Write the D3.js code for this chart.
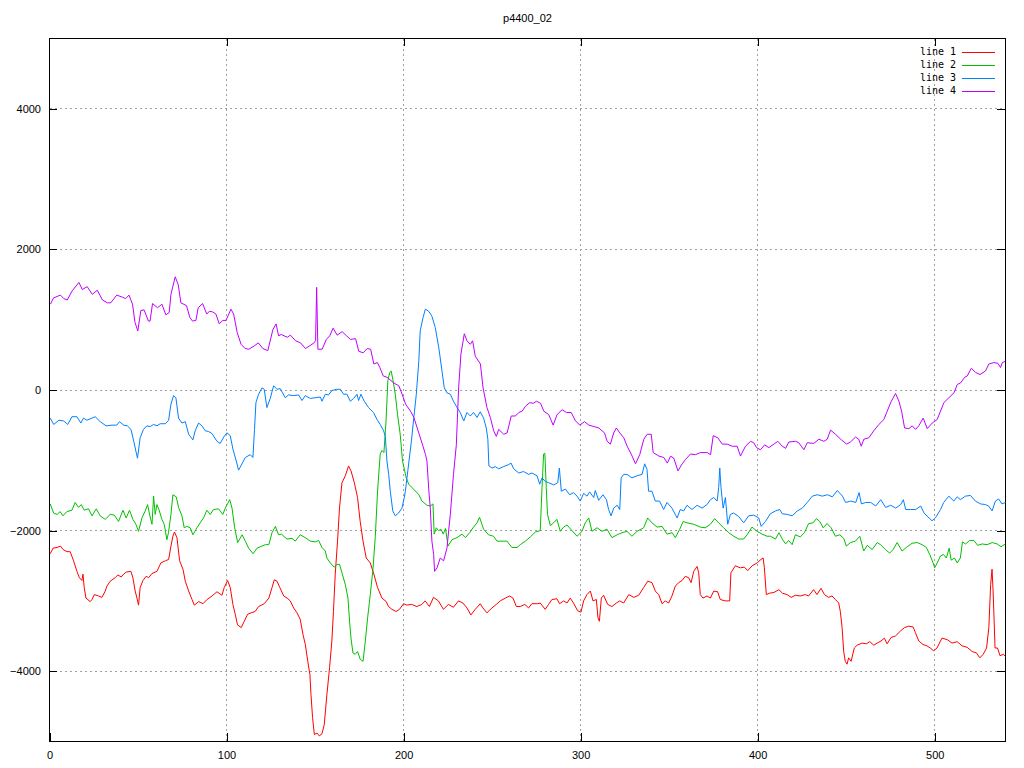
<!DOCTYPE html>
<html>
<head>
<meta charset="utf-8">
<script src="https://cdn.jsdelivr.net/npm/d3@7"></script>
<style>
  html, body { margin: 0; padding: 0; background: #fff; }
  svg { display: block; }
</style>
</head>
<body>
<svg id="chart" width="1024" height="768"></svg>
<script>
const chartTitle = "p4400_02";
const seriesNames = ["line 1", "line 2", "line 3", "line 4"];
const seriesColors = ["#ff0000", "#00c000", "#0080ff", "#c000ff"];
const xTicks = [0, 100, 200, 300, 400, 500];
const yTicks = [-4000, -2000, 0, 2000, 4000];

const line1X = [0.4,2,4.3,6.2,7.7,9.9,11.7,13.6,15.5,16.9,18.3,18.9,19.6,20.6,23,24,25.3,27.7,29.6,31.5,32.4,34.3,37.1,38.6,40.5,41.9,43.3,46,47.1,48.4,49.4,50.3,51.2,52.8,54.6,56,57.9,60.7,62.9,65.4,67.3,68.6,69.7,70.6,72,73.5,75.4,76.7,78.6,80.5,81.8,84.3,86.7,89,91.8,94.6,97.4,98.7,100.6,102.1,103.6,104.9,106.2,108.3,110,111.9,113.9,116.2,118.1,119.7,121.3,123.9,125.7,127,128.5,130.1,132.3,134.2,136,137.9,139.8,141.6,143.2,144.5,145.9,147.1,147.7,148.6,149.6,151.1,152.4,153.9,155.2,156.7,158.2,159.5,160.4,161.4,162.7,163.8,165.2,167.1,168.9,170.3,172.2,174,175.5,177.1,178.9,181.2,183,185.3,187.8,190.2,191.5,193.4,195.8,197.7,200,201.8,204.6,207.5,210.3,212.2,214.6,216.9,219.7,222.5,225.3,228.2,231,233.5,235.8,238,240.5,243.3,244.8,247.1,249.9,252.4,254.6,257.5,259.9,261.8,263.7,265.9,268.5,270.6,272.5,275.7,277.2,280,281.9,283.8,286.6,288.1,290.4,292.3,294.1,296,298.3,300.2,301.7,303.6,305.5,307,308.9,309.8,310.6,311.7,313,315.3,317.7,320.2,322.1,324.3,327.2,330,332.8,335.6,337.9,340.3,342.2,344.1,346,347.8,349.7,351.6,353.5,355.4,357.3,359.1,361,362.4,363.9,365.8,366.7,367.6,369.1,371.4,373.3,375.2,377.4,378.9,381.7,384.2,384.9,387.4,390.2,392.5,394.4,396.9,399.7,401.9,403.1,403.8,404.9,406.8,409.2,412,414,416.6,418.9,421.3,424.1,426.9,428.8,431.6,433.5,435.8,437.7,440.1,442,443.9,445.8,446.7,447.7,448.6,449.5,450.5,451.4,452.8,454.6,456.2,459,461.4,463.3,465.6,467.5,469.7,471.6,473.1,475.4,477.8,480.6,482.9,485.3,487.8,489.1,491,493.4,495.7,497.5,499.4,501.3,504.1,507,509.8,512.7,515.5,518.3,521.2,523.6,525.5,527.4,529.3,530.6,531.6,532.4,533,534.1,535.5,536.9,538.8,540];
const line1Y = [-2330,-2250,-2240,-2220,-2270,-2300,-2300,-2430,-2580,-2670,-2710,-2620,-2810,-2960,-3010,-2980,-2910,-2930,-2950,-2860,-2790,-2720,-2670,-2630,-2660,-2620,-2590,-2580,-2670,-2860,-2960,-3060,-2810,-2710,-2650,-2670,-2610,-2580,-2460,-2430,-2410,-2220,-2080,-2020,-2100,-2430,-2550,-2720,-2860,-2980,-3060,-3010,-3040,-2980,-2930,-2870,-2920,-2810,-2710,-2810,-3050,-3190,-3340,-3380,-3290,-3190,-3170,-3150,-3080,-3060,-3040,-2960,-2810,-2700,-2720,-2810,-2930,-2960,-3000,-3100,-3170,-3260,-3480,-3620,-3860,-4050,-4330,-4660,-4900,-4880,-4920,-4890,-4760,-4330,-3950,-3570,-3150,-2620,-2150,-1680,-1320,-1220,-1080,-1150,-1320,-1530,-1870,-2150,-2390,-2460,-2600,-2810,-2960,-3010,-3080,-3120,-3150,-3120,-3040,-3060,-3050,-3080,-3050,-3000,-3080,-2950,-3000,-3120,-3050,-3090,-3000,-3030,-3100,-3200,-3120,-3040,-3100,-3170,-3100,-3050,-3000,-2960,-2930,-2960,-3080,-3080,-3050,-3100,-3040,-3040,-3030,-3120,-3050,-2980,-2970,-3040,-3000,-3030,-2960,-3030,-3140,-3160,-3000,-2910,-2860,-3000,-2980,-3240,-3290,-2960,-2920,-3050,-3080,-3030,-3000,-3030,-2910,-2950,-2920,-2810,-2720,-2740,-2860,-2910,-3040,-3000,-3030,-2930,-2790,-2740,-2710,-2650,-2670,-2740,-2580,-2510,-2600,-2910,-2960,-2930,-2960,-2860,-2870,-2980,-3000,-3000,-2600,-2500,-2530,-2520,-2570,-2500,-2460,-2410,-2390,-2530,-2910,-2890,-2880,-2840,-2890,-2910,-2950,-2920,-2930,-2910,-2930,-2840,-2910,-2820,-2910,-2950,-2930,-2980,-3030,-3150,-3380,-3720,-3860,-3900,-3810,-3860,-3670,-3630,-3600,-3610,-3580,-3630,-3600,-3570,-3530,-3610,-3520,-3500,-3430,-3380,-3360,-3370,-3450,-3570,-3620,-3640,-3670,-3710,-3670,-3530,-3550,-3600,-3580,-3640,-3660,-3720,-3740,-3810,-3760,-3670,-3380,-2770,-2550,-2860,-3670,-3670,-3780,-3760,-3790];

const line2X = [0.4,2.3,4.3,6,7.6,9.8,12.7,14.5,16.4,17.9,19.6,22,24,26.4,28.6,31.5,34.3,36.6,39,41.5,43.3,45.2,47.1,48.8,50.3,52.2,54.1,55.4,56.6,57.9,58.8,59.7,60.7,61.8,63.5,64.8,66.3,67.2,68.6,69.7,71.6,72.9,74.8,76.1,77.6,79.5,81,83.3,85.1,87,88.9,90.8,92.6,95.5,97.9,99.3,101.8,103.1,104.6,106.3,108.8,110.6,112.5,115,117.2,120,122,123.9,125.7,127.6,129.4,131,134.1,137,138.8,141.6,144.5,147.3,150.1,152,153.9,155.8,156.7,158.6,160.8,162.4,163.8,165.2,167.1,168.6,169.5,170.3,171.4,172.7,174,175.5,177.1,178.4,179.7,181.2,182.7,184,185.3,186.8,187.8,188.9,190.1,191.1,192.2,193,194.1,195.3,196.6,198.1,199.4,201.5,202.9,205.6,208.5,210.4,213.2,215.1,216.6,217.3,218.5,219.8,221.1,222.4,223.7,225.1,227.3,230.2,233,234.9,237.3,239.2,241.5,242.9,245.2,248,250.8,252.8,255.6,258.4,261.2,264.1,265.9,268.8,271.6,274.4,277.2,278.2,279.1,279.8,280.6,281.3,282.9,284.7,286.6,288.5,290.4,292.3,295.1,298,300.8,302.6,304.6,306.4,309.3,312.1,314.9,317.7,320.6,323.4,326.2,329,331.9,335.6,337.9,340.3,343.2,346,348.8,351.7,353.5,356,357.9,360.1,363.9,367.6,370.4,373.3,375.7,378,380.8,383.7,386.5,389.3,392.1,394,396.8,399.7,402.5,405.3,407.2,410.1,412,413.9,415.8,417.5,419.5,421.3,424.1,426.4,428.8,431.3,433.2,435.1,437,439.2,441.5,443.9,446.4,448.6,450.1,452.4,455.2,457.7,459.9,461.9,464.7,467.5,469.4,472.2,474.6,476.5,478.8,481.6,484,487.2,490.1,492.9,495.3,497.2,499.1,500,501.4,503.3,505,506.6,508.2,509.3,511.2,512.7,514.5,515.7,517.4,519.8,522.1,524.3,526.8,529.6,532.5,535.3,537.5,540];
const line2Y = [-1620,-1750,-1770,-1730,-1790,-1730,-1710,-1600,-1670,-1630,-1710,-1690,-1790,-1690,-1790,-1840,-1770,-1780,-1870,-1710,-1820,-1710,-1840,-1910,-2010,-1820,-1720,-1630,-1780,-1910,-1510,-1770,-1630,-1700,-1840,-1910,-2130,-2030,-1770,-1490,-1520,-1670,-1790,-1960,-1940,-1960,-2060,-1960,-1890,-1820,-1710,-1770,-1700,-1690,-1770,-1680,-1560,-1680,-1960,-2170,-2060,-2150,-2250,-2330,-2250,-2220,-2200,-2200,-2030,-1940,-2060,-2050,-2120,-2110,-2150,-2060,-2100,-2150,-2160,-2140,-2240,-2290,-2390,-2460,-2520,-2480,-2480,-2600,-2770,-2960,-3290,-3530,-3740,-3760,-3720,-3830,-3860,-3570,-3240,-2910,-2550,-2100,-1440,-910,-860,-890,-440,130,250,270,130,-60,-350,-630,-1010,-1250,-1340,-1410,-1485,-1580,-1640,-1650,-1620,-2050,-1960,-2000,-1980,-2050,-1970,-2220,-2130,-2100,-2050,-2100,-2030,-1960,-1890,-1810,-1980,-2060,-2080,-2150,-2150,-2150,-2240,-2240,-2200,-2150,-2090,-2020,-2000,-1390,-910,-900,-1390,-1770,-1930,-1890,-1840,-2010,-1950,-1920,-2000,-2080,-2010,-1890,-1820,-2010,-1960,-2010,-1980,-2100,-2060,-2030,-2010,-2080,-2010,-1960,-1820,-1890,-1950,-1940,-2050,-2030,-2100,-1980,-1870,-1890,-1910,-1950,-1960,-1910,-1830,-1890,-1960,-2030,-2080,-2120,-2120,-2060,-1950,-2010,-2050,-2080,-2080,-2120,-2030,-2120,-2190,-2140,-2200,-2060,-2090,-2030,-1900,-1890,-1830,-1870,-1960,-1900,-1960,-2080,-2060,-2110,-2220,-2170,-2150,-2080,-2290,-2210,-2270,-2170,-2200,-2270,-2320,-2270,-2170,-2290,-2240,-2180,-2170,-2200,-2240,-2340,-2460,-2530,-2460,-2360,-2340,-2390,-2250,-2420,-2390,-2460,-2390,-2160,-2190,-2140,-2140,-2210,-2190,-2200,-2170,-2190,-2230,-2190];

const line3X = [0.4,2.4,5.3,8,10.3,12.7,15.5,17.7,19.2,21.1,24,25.8,28.6,32,35.3,38,39.5,41.9,44,46,47.6,48.8,49.7,51.2,53.1,55,56.9,58.8,60.7,62.5,65.4,67.3,68.6,70.1,71.4,72.9,74.8,76.7,78.6,81,82.3,84.2,86.1,88,89.8,91.8,94.6,96.4,98.4,100.2,102.1,103.6,105.5,106.8,108.3,110.6,113.4,114.9,115.8,116.6,118.1,120,121.3,122.8,124.7,126.6,128.5,130.3,133.2,135,137.9,140.7,142.6,144.5,147.3,150.1,153,153.9,155.8,157.6,159.5,162,164.3,166.1,168,169.9,171.8,173.7,174.6,175.9,177.8,180.2,183,185,186.8,188.7,189.7,190.6,191.6,192.5,193.9,195.3,197.2,199.1,200.4,201,202.4,204.4,205.8,207.2,208.6,209.4,211,212.3,214.2,216,217.9,219.9,221.7,223,224.5,226.4,228.2,230.2,232,234,235.8,237.7,239.5,241.5,243.3,245.2,246.7,247.6,248.2,250,251.8,253.7,256.5,259.4,260.7,262.2,265,267.8,270.6,272.5,275.4,276.9,278.2,280,282,284.8,287.1,288,289.1,291.4,293.8,296,298,299.8,301.7,303.6,305.1,307.4,308.3,310.2,312.6,314.6,315.8,317.2,318.7,320.6,322.1,322.9,324.3,326.2,329,331.9,334.7,336.2,337.5,338.4,340.3,342.2,344.6,346.9,348.8,351.6,354.5,356.3,358.2,360.1,362.9,365.8,368.6,371.4,373.3,375.2,377.1,378,378.6,379.3,380.5,381.8,383.1,384.6,386.4,389.3,392.1,394.9,397.8,400.6,402,404.4,407.2,410.1,412.5,413.9,416.7,419.5,422.4,425.2,428,430.9,433.7,436.5,439.4,442.2,445,447.9,449.7,452.6,455.4,457.3,458.6,461,463.9,466.7,469.5,472.3,475.2,478,480.8,482.3,483.6,486.4,489.3,492.1,494,496.8,498.5,500.4,503.3,505.1,508,510.8,512.7,514.5,517.4,520.2,523,525.9,528.7,530.5,532.4,534.3,536.1,538,540];
const line3Y = [-400,-490,-430,-440,-490,-380,-380,-470,-400,-430,-400,-380,-450,-510,-500,-500,-450,-500,-510,-560,-730,-870,-970,-680,-560,-510,-520,-490,-510,-480,-480,-430,-200,-80,-110,-400,-470,-450,-630,-710,-580,-470,-510,-580,-590,-620,-730,-760,-670,-610,-650,-840,-1010,-1140,-1070,-960,-920,-960,-560,-180,-60,30,10,-250,-120,60,10,20,-110,-70,-80,-70,-150,-80,-120,-110,-100,-160,-60,-70,-10,10,10,-60,-60,-160,-120,-60,-150,-60,-160,-250,-320,-420,-490,-580,-660,-1010,-1200,-1440,-1720,-1790,-1750,-1680,-1530,-1440,-1150,-730,-390,-60,410,840,1030,1150,1120,1050,890,600,270,30,-40,-60,-160,-250,-320,-440,-320,-370,-320,-390,-310,-400,-540,-700,-1080,-1110,-1090,-1120,-1090,-1060,-1040,-1120,-1180,-1160,-1200,-1180,-1220,-1340,-1250,-1300,-1320,-1350,-1320,-1110,-1440,-1410,-1490,-1460,-1510,-1580,-1470,-1510,-1450,-1530,-1430,-1570,-1490,-1560,-1700,-1790,-1680,-1640,-1700,-1250,-1200,-1200,-1250,-1220,-1200,-1050,-1130,-1440,-1440,-1580,-1580,-1700,-1600,-1680,-1820,-1700,-1720,-1640,-1700,-1640,-1680,-1630,-1560,-1530,-1580,-1390,-1110,-1390,-1680,-1530,-1910,-1770,-1750,-1800,-1890,-1790,-1780,-1820,-1940,-1870,-1760,-1720,-1700,-1760,-1770,-1790,-1720,-1680,-1600,-1510,-1490,-1510,-1490,-1520,-1430,-1510,-1600,-1580,-1600,-1460,-1620,-1600,-1600,-1650,-1560,-1670,-1640,-1680,-1630,-1560,-1700,-1700,-1700,-1650,-1750,-1820,-1860,-1820,-1700,-1600,-1510,-1580,-1520,-1560,-1510,-1500,-1580,-1620,-1630,-1650,-1720,-1580,-1550,-1620,-1600];

const line4X = [0.5,2.3,6.2,8.1,10,12.8,16.6,18.5,21.3,24.2,27,29.9,32.7,34.6,38,41.2,43,44.9,46.9,48.3,49.9,51.6,53.4,55.9,56.8,58.2,61,63.5,65.7,67.6,68.6,71,72.7,74.2,77.4,79.3,80.8,82.7,84,86.5,88.8,90.3,92.2,94,95.9,97.8,99.7,102.5,104,106,108.2,110.5,112.6,115.8,118,120.5,123.3,126.2,128,129.4,130.9,134.3,136.1,139,141.8,144.6,147.1,149.4,150.3,150.9,151.6,154,156.4,158.3,160.2,162.5,165.3,167.8,170,172.9,174.7,177.2,179.5,181.4,183.2,185.2,186.6,188.5,190.7,194.5,197.3,199.2,201.1,203.9,205.8,207.7,210.6,212.4,213.2,214.3,215.1,216,217,217.5,218.9,220.7,222.6,224.5,226.4,228.2,229.8,231.1,232.4,234.3,235.8,237.7,239,240.5,243.4,244.9,247.1,249,250.9,252.4,253.7,256.6,258.5,260.8,263.2,265.1,267,268.9,271.3,273.2,275.1,277.4,279.2,282,284.5,286.7,289.6,292,294.7,297.1,299.6,302.2,304.7,307.5,310.3,313.5,315,316.8,318.7,320.2,322.1,324.4,326.3,329.1,331,333.4,335.7,337.6,339.9,341,344.2,347,349,350.8,352.6,355,357.4,359.2,362.1,364.9,367.7,371.5,373.4,374.9,377.5,380,382.8,385.6,388.4,390.3,393.1,396,397.8,399.4,401.6,403.9,406.3,409.2,411.4,413.9,415.8,417.6,421.4,423.2,426.1,428,431.7,434.6,437.4,439.3,441.2,444,446.9,450.3,452.4,455.3,457.1,458.5,460,462.8,465.6,468.5,471.3,473.2,475.5,477.9,479.8,481.3,483,485.4,487.3,489.2,491,493.5,495.8,498.6,501.4,503.3,505.2,508,510.9,512.8,514.6,516.9,518.4,520.7,523.1,525.6,528.7,530.6,533.4,535.7,537.2,538.2,540];
const line4Y = [1220,1310,1350,1300,1280,1410,1530,1430,1470,1360,1420,1280,1240,1240,1350,1320,1300,1350,1220,960,840,1130,1140,980,980,1230,1170,1220,1070,1100,1360,1610,1500,1240,1200,1030,980,990,1170,1230,1080,1120,1110,1080,940,990,990,1150,1080,820,650,590,580,630,670,590,560,860,940,770,790,750,780,700,670,590,630,670,700,1460,580,580,720,770,880,780,830,770,720,730,550,530,590,580,370,390,320,200,180,100,60,-60,-200,-300,-390,-540,-770,-920,-1010,-1440,-1680,-2150,-2340,-2580,-2530,-2390,-2430,-2250,-1770,-1200,-780,30,510,800,700,650,700,480,370,30,-250,-390,-580,-660,-560,-630,-610,-370,-370,-320,-300,-230,-180,-190,-160,-190,-300,-350,-500,-350,-280,-320,-320,-440,-500,-450,-500,-520,-540,-610,-730,-770,-610,-540,-610,-680,-800,-940,-1050,-920,-700,-630,-630,-890,-940,-960,-1040,-940,-970,-1150,-1050,-990,-910,-920,-890,-890,-920,-650,-680,-770,-770,-800,-800,-940,-800,-730,-750,-820,-850,-780,-820,-770,-730,-800,-830,-740,-730,-750,-850,-750,-760,-700,-730,-700,-570,-630,-700,-770,-740,-670,-700,-800,-700,-680,-580,-490,-420,-300,-160,-50,-160,-300,-540,-550,-510,-560,-510,-400,-550,-470,-420,-300,-180,-110,-40,80,100,180,200,310,250,220,270,370,390,380,320,390,410];

const seriesX = [line1X, line2X, line3X, line4X];
const seriesY = [line1Y, line2Y, line3Y, line4Y];

(function () {
  const svg = d3.select("#chart");
  const W = 1024, H = 768;
  svg.append("rect").attr("width", W).attr("height", H).attr("fill", "#fff");

  const pL = 49.5, pR = 1005.5, pT = 38.5, pB = 741.5;
  const x = d3.scaleLinear().domain([0, 540]).range([pL, pR]);
  const y = d3.scaleLinear().domain([-5000, 5000]).range([pB, pT]);

  const sansFont = "'Liberation Sans', Arial, sans-serif";
  const monoFont = "'DejaVu Sans Mono', monospace";

  // Title
  svg.append("text")
    .attr("x", (pL + pR) / 2).attr("y", 19)
    .attr("text-anchor", "middle").attr("dominant-baseline", "middle")
    .attr("font-family", sansFont).attr("font-size", 11)
    .attr("fill", "#000").text(chartTitle);

  // Grid
  const grid = svg.append("g").attr("stroke", "#a0a0a0").attr("stroke-width", 1)
    .attr("stroke-dasharray", "2,3").attr("shape-rendering", "crispEdges");
  xTicks.filter(t => t > 0 && t < 540).forEach(t => {
    const px = Math.floor(x(t)) + 0.5;
    grid.append("line").attr("x1", px).attr("x2", px).attr("y1", pT).attr("y2", pB);
  });
  yTicks.forEach(t => {
    const py = Math.floor(y(t)) + 0.5;
    grid.append("line").attr("y1", py).attr("y2", py).attr("x1", pL).attr("x2", pR);
  });

  function styleAxis(g) {
    g.select(".domain").remove();
    g.selectAll(".tick line").attr("stroke", "#000").attr("shape-rendering", "crispEdges");
    g.selectAll(".tick text").attr("font-family", sansFont).attr("font-size", 11).attr("fill", "#000");
  }
  const xAxisB = d3.axisBottom(x).tickValues(xTicks).tickSizeInner(-8).tickSizeOuter(0).tickPadding(10).tickFormat(d3.format("d"));
  svg.append("g").attr("transform", `translate(0,${pB - 0.5})`).call(xAxisB).call(styleAxis);
  const xAxisT = d3.axisTop(x).tickValues(xTicks.filter(t => t > 0)).tickSizeInner(-8).tickSizeOuter(0).tickFormat("");
  svg.append("g").attr("transform", `translate(0,${pT - 0.5})`).call(xAxisT).call(styleAxis);
  const yAxisL = d3.axisLeft(y).tickValues(yTicks).tickSizeInner(-8).tickSizeOuter(0).tickPadding(8).tickFormat(d3.format("d"));
  svg.append("g").attr("transform", `translate(${pL - 0.5},0)`).call(yAxisL).call(styleAxis);
  const yAxisR = d3.axisRight(y).tickValues(yTicks).tickSizeInner(-8).tickSizeOuter(0).tickFormat("");
  svg.append("g").attr("transform", `translate(${pR - 0.5},0)`).call(yAxisR).call(styleAxis);

  // Frame
  svg.append("rect").attr("x", pL - 0.5).attr("y", pT - 0.5)
    .attr("width", pR - pL).attr("height", pB - pT)
    .attr("fill", "none").attr("stroke", "#000").attr("stroke-width", 1)
    .attr("shape-rendering", "crispEdges");

  // Lines
  const lineGen = d3.line().x(d => x(d[0])).y(d => y(d[1]));
  const plot = svg.append("g");
  seriesX.forEach((xs, i) => {
    const pts = xs.map((v, j) => [v, seriesY[i][j]]);
    plot.append("path").datum(pts)
      .attr("fill", "none").attr("stroke", seriesColors[i]).attr("stroke-width", 1)
      .attr("d", lineGen);
  });

  // Legend
  const legend = svg.append("g");
  seriesNames.forEach((name, i) => {
    const yy = 52 + i * 13;
    legend.append("text").attr("x", 956).attr("y", yy)
      .attr("text-anchor", "end").attr("dominant-baseline", "middle")
      .attr("font-family", monoFont).attr("font-size", 10).attr("fill", "#000").text(name);
    legend.append("rect").attr("x", 962).attr("y", yy)
      .attr("width", 33).attr("height", 1)
      .attr("fill", seriesColors[i]);
  });
})();
</script>
</body>
</html>
